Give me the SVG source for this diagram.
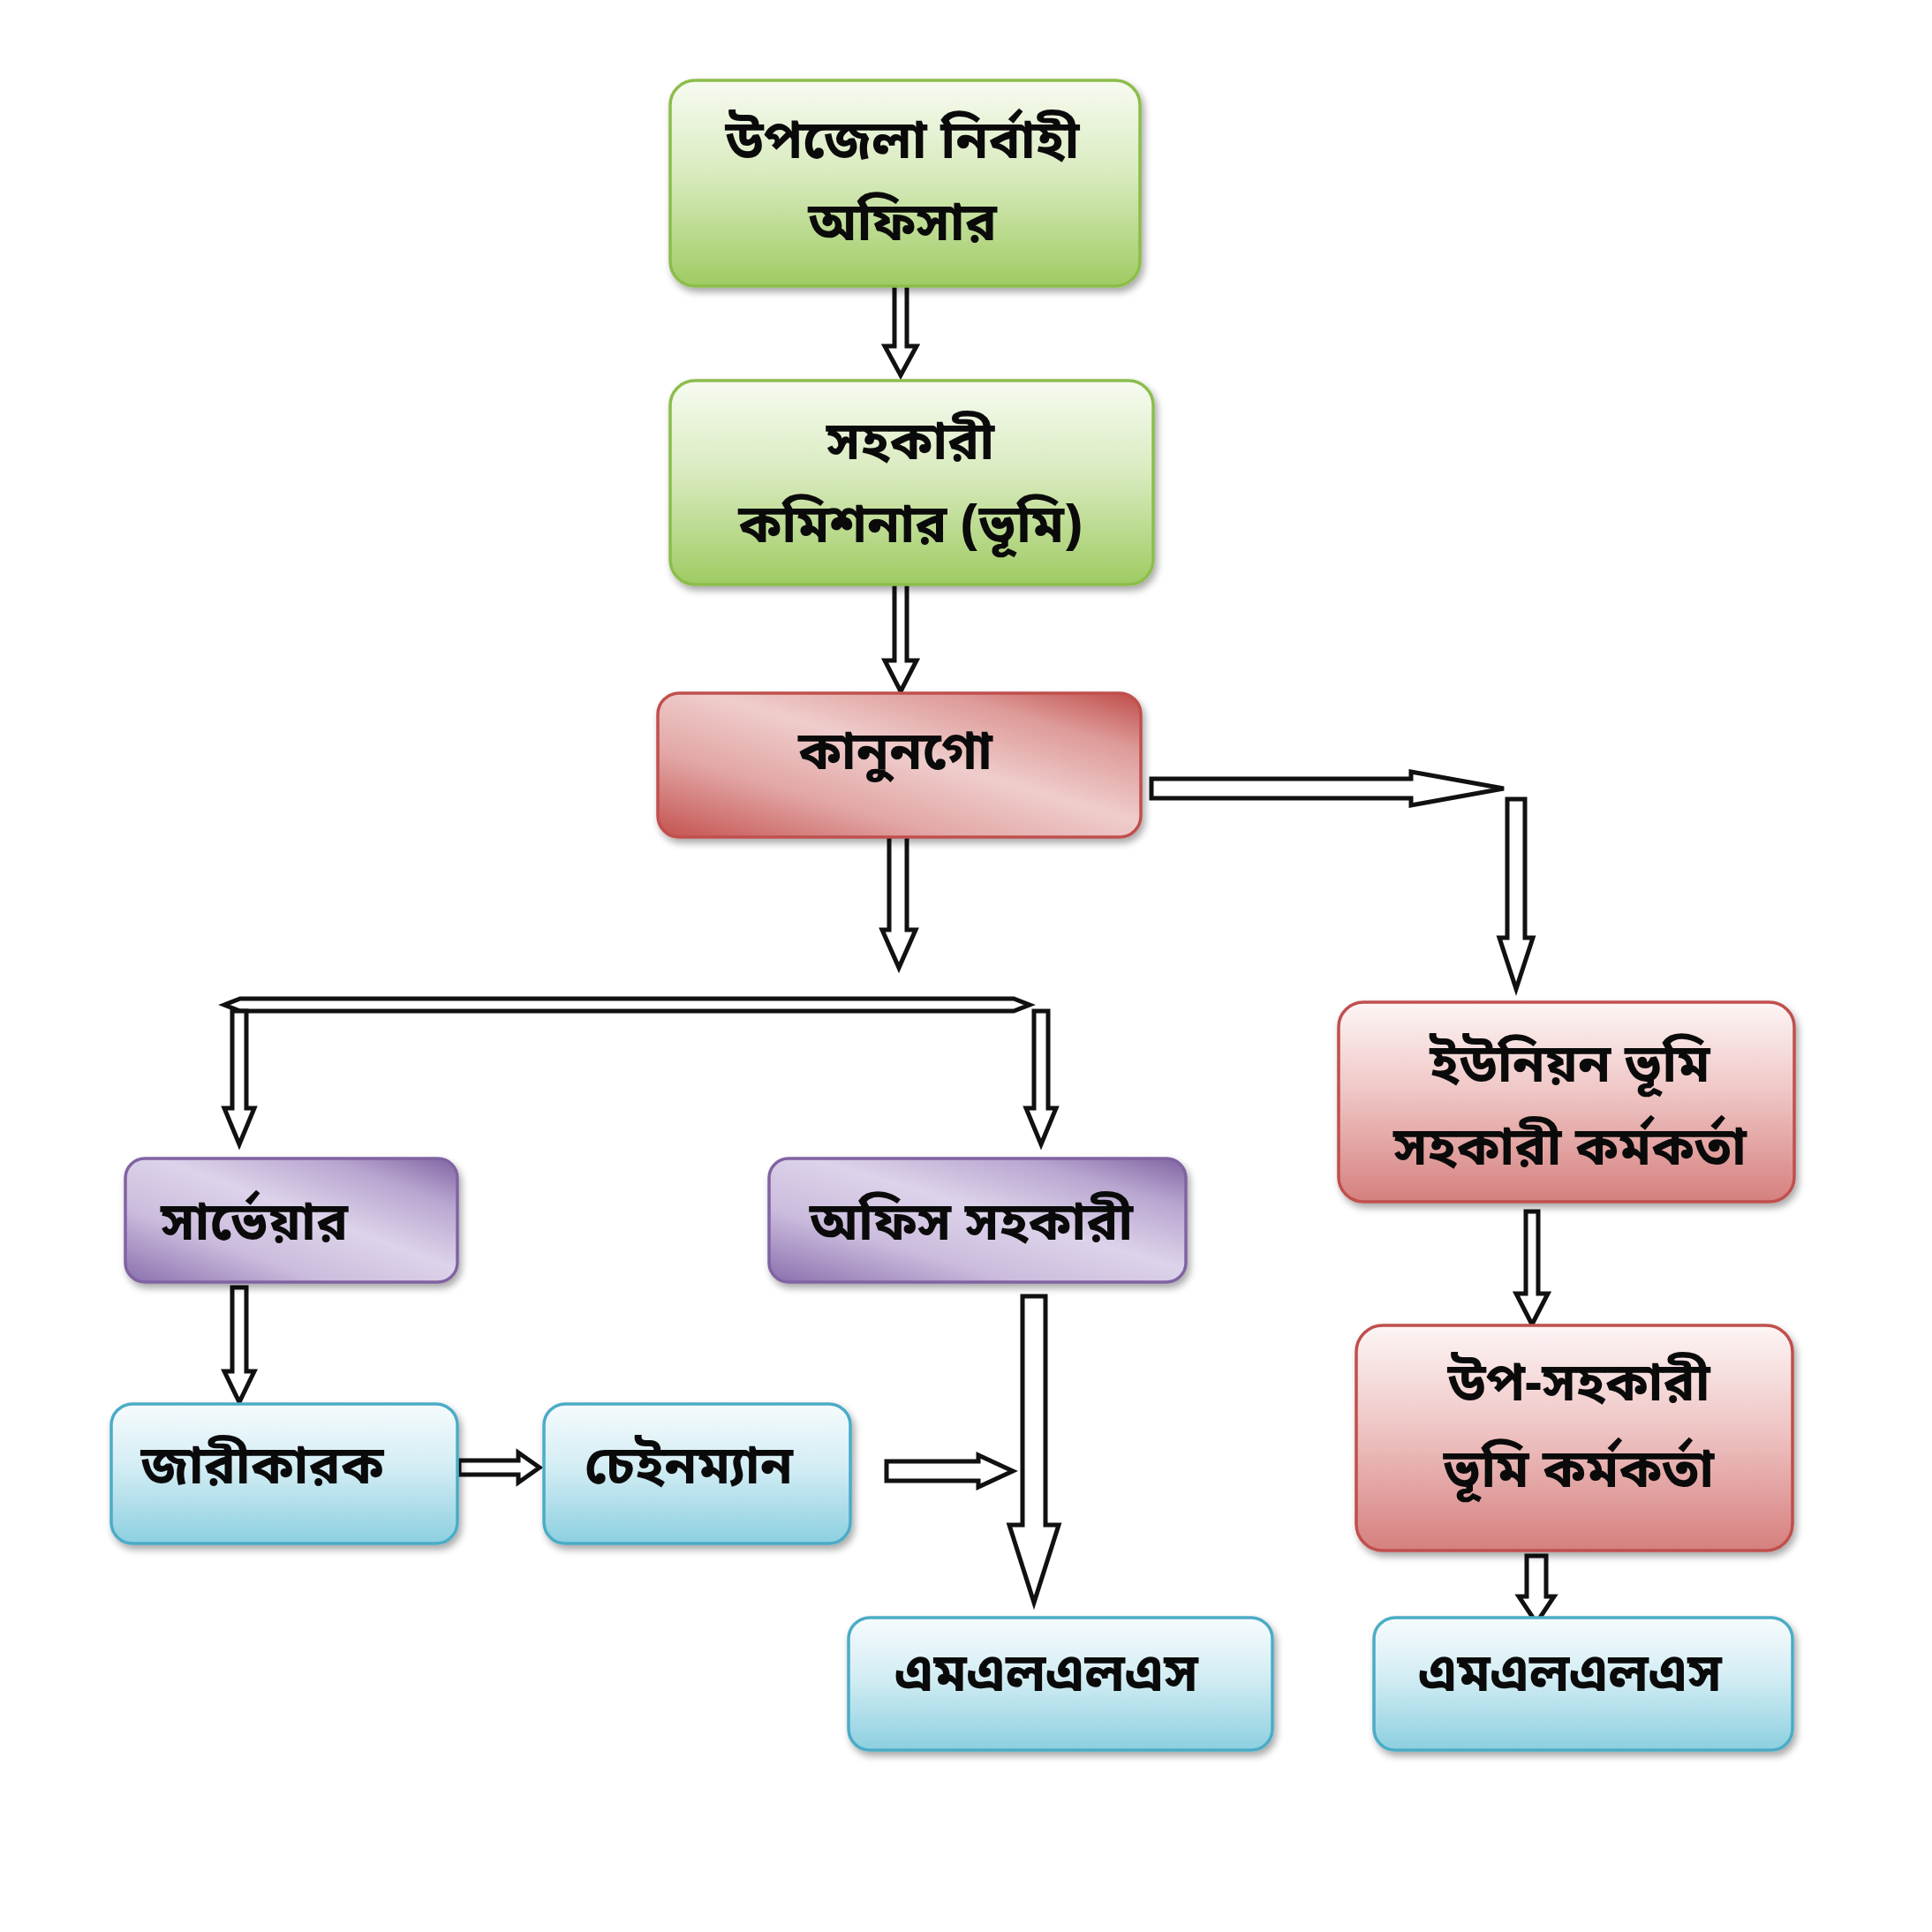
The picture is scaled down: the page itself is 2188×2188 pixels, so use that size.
<svg xmlns="http://www.w3.org/2000/svg" width="2188" height="2188" viewBox="0 0 2188 2188">
<defs>
  <linearGradient id="gGreen" x1="0" y1="0" x2="0" y2="1">
    <stop offset="0" stop-color="#f7fbf1"/>
    <stop offset="0.45" stop-color="#d9ebbf"/>
    <stop offset="1" stop-color="#9fcb62"/>
  </linearGradient>
  <linearGradient id="gRedDiag" x1="0" y1="1" x2="1" y2="0">
    <stop offset="0" stop-color="#c4524f"/>
    <stop offset="0.3" stop-color="#e2a7a6"/>
    <stop offset="0.55" stop-color="#efcdcc"/>
    <stop offset="0.8" stop-color="#dd9a98"/>
    <stop offset="1" stop-color="#bf4c49"/>
  </linearGradient>
  <linearGradient id="gRed" x1="0" y1="0" x2="0" y2="1">
    <stop offset="0" stop-color="#fdf5f5"/>
    <stop offset="0.45" stop-color="#efc6c5"/>
    <stop offset="1" stop-color="#d5807e"/>
  </linearGradient>
  <linearGradient id="gPurple" x1="0" y1="1" x2="1" y2="0">
    <stop offset="0" stop-color="#8a6fad"/>
    <stop offset="0.3" stop-color="#cbbcdd"/>
    <stop offset="0.55" stop-color="#ddd3ea"/>
    <stop offset="0.8" stop-color="#b8a6d0"/>
    <stop offset="1" stop-color="#8064a2"/>
  </linearGradient>
  <linearGradient id="gBlue" x1="0" y1="0" x2="0" y2="1">
    <stop offset="0" stop-color="#f6fbfd"/>
    <stop offset="0.45" stop-color="#d3edf4"/>
    <stop offset="1" stop-color="#8ccfe0"/>
  </linearGradient>
  <filter id="shadow" x="-10%" y="-10%" width="125%" height="130%">
    <feGaussianBlur in="SourceAlpha" stdDeviation="4"/>
    <feOffset dx="3" dy="5" result="b"/>
    <feComponentTransfer><feFuncA type="linear" slope="0.35"/></feComponentTransfer>
    <feMerge><feMergeNode/><feMergeNode in="SourceGraphic"/></feMerge>
  </filter>
</defs>
<style>
  .box { filter: url(#shadow); stroke-width: 3.5; }
  .green { fill: url(#gGreen); stroke: #8cbd4c; }
  .reddiag { fill: url(#gRedDiag); stroke: #c0504d; }
  .red { fill: url(#gRed); stroke: #c0504d; }
  .purple { fill: url(#gPurple); stroke: #8064a2; }
  .blue { fill: url(#gBlue); stroke: #4bacc6; }
  .t { font-family: "Noto Sans Bengali", "Noto Sans", "Noto Sans CJK SC", sans-serif; font-size: 60px; font-weight: bold; fill: #0a0a0a; text-anchor: middle; }
  .arr { fill: #ffffff; stroke: #111; stroke-width: 5; stroke-linejoin: miter; }
</style>
<rect width="2188" height="2188" fill="#ffffff"/>

<g id="connectors">
  <path class="arr" d="M1013,320 L1027,320 L1027,392 L1038,392 L1020,425 L1002,392 L1013,392 Z"/>
  <path class="arr" d="M1013,659 L1027,659 L1027,748 L1038,748 L1020,783 L1002,748 L1013,748 Z"/>
  <path class="arr" d="M1007,940 L1027,940 L1027,1053 L1037,1053 L1018,1096 L999,1053 L1007,1053 Z"/>
  <path class="arr" d="M1304,882 L1598,882 L1598,874 L1703,893 L1598,912 L1598,904 L1304,904 Z"/>
  <path class="arr" d="M1707,905 L1727,905 L1727,1062 L1736,1062 L1717,1120 L1698,1062 L1707,1062 Z"/>
  <path class="arr" d="M254,1138 L272,1131 L1148,1131 L1166,1138 L1148,1145 L272,1145 Z"/>
  <path class="arr" d="M263,1145 L279,1145 L279,1255 L288,1255 L271,1296 L254,1255 L263,1255 Z"/>
  <path class="arr" d="M1171,1145 L1187,1145 L1187,1255 L1196,1255 L1179,1296 L1162,1255 L1171,1255 Z"/>
  <path class="arr" d="M263,1458 L279,1458 L279,1553 L288,1553 L271,1588 L254,1553 L263,1553 Z"/>
  <path class="arr" d="M520,1654 L587,1654 L587,1645 L611,1662 L587,1679 L587,1670 L520,1670 Z"/>
  <path class="arr" d="M1004,1655 L1108,1655 L1108,1648 L1147,1666 L1108,1684 L1108,1677 L1004,1677 Z"/>
  <path class="arr" d="M1158,1468 L1184,1468 L1184,1727 L1199,1727 L1171,1815 L1143,1727 L1158,1727 Z"/>
  <path class="arr" d="M1728,1372 L1742,1372 L1742,1465 L1753,1465 L1735,1500 L1717,1465 L1728,1465 Z"/>
  <path class="arr" d="M1729,1762 L1751,1762 L1751,1808 L1760,1808 L1740,1838 L1720,1808 L1729,1808 Z"/>
</g>

<g id="node-uno">
  <rect class="box green" x="759" y="91" width="532" height="233" rx="28"/>
  <text class="t" x="1022" y="179">উপজেলা নির্বাহী</text>
  <text class="t" x="1022" y="272">অফিসার</text>
</g>
<g id="node-ac-land">
  <rect class="box green" x="759" y="431" width="547" height="231" rx="28"/>
  <text class="t" x="1031" y="520">সহকারী</text>
  <text class="t" x="1031" y="614">কমিশনার (ভূমি)</text>
</g>
<g id="node-kanungo">
  <rect class="box reddiag" x="745" y="785" width="547" height="163" rx="24"/>
  <text class="t" x="1014" y="871">কানুনগো</text>
</g>
<g id="node-union">
  <rect class="box red" x="1516" y="1135" width="516" height="226" rx="28"/>
  <text class="t" x="1778" y="1225">ইউনিয়ন ভূমি</text>
  <text class="t" x="1778" y="1319">সহকারী কর্মকর্তা</text>
</g>
<g id="node-sub-assistant">
  <rect class="box red" x="1536" y="1501" width="494" height="255" rx="30"/>
  <text class="t" x="1788" y="1586">উপ-সহকারী</text>
  <text class="t" x="1788" y="1684">ভূমি কর্মকর্তা</text>
</g>
<g id="node-mlss-right">
  <rect class="box blue" x="1556" y="1832" width="474" height="150" rx="24"/>
  <text class="t" x="1778" y="1915">এমএলএলএস</text>
</g>
<g id="node-surveyor">
  <rect class="box purple" x="142" y="1312" width="376" height="140" rx="22"/>
  <text class="t" x="288" y="1404">সার্ভেয়ার</text>
</g>
<g id="node-office-assistant">
  <rect class="box purple" x="871" y="1312" width="472" height="140" rx="22"/>
  <text class="t" x="1100" y="1404">অফিস সহকারী</text>
</g>
<g id="node-jarikarok">
  <rect class="box blue" x="126" y="1590" width="392" height="158" rx="24"/>
  <text class="t" x="297" y="1680">জারীকারক</text>
</g>
<g id="node-chainman">
  <rect class="box blue" x="616" y="1590" width="347" height="158" rx="24"/>
  <text class="t" x="780" y="1680">চেইনম্যান</text>
</g>
<g id="node-mlss-mid">
  <rect class="box blue" x="961" y="1832" width="480" height="150" rx="24"/>
  <text class="t" x="1185" y="1915">এমএলএলএস</text>
</g>
</svg>
